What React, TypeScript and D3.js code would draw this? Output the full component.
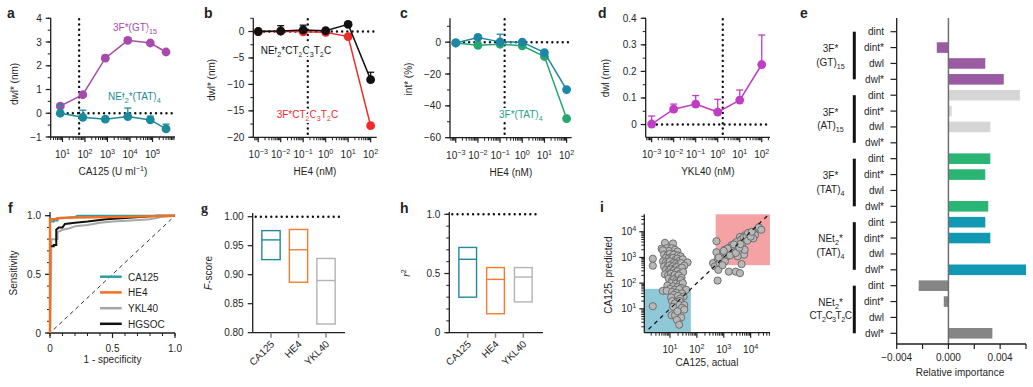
import * as d3 from 'd3';
import { useEffect, useRef } from 'react';

const FONT = "'Liberation Sans', Arial, Helvetica, sans-serif";
const INK = '#1f1f1f';

// a: CA125 titration (dwl*, nm)
const caConc = [8, 80, 800, 8000, 80000, 400000];
const gt15Dwl = [0.3, 0.78, 2.32, 3.07, 2.96, 2.58];
const gt15Err = [0.1, 0.08, 0.12, 0.1, 0.06, 0.06];
const tat4Dwl = [0.0, -0.17, -0.25, -0.14, -0.28, -0.66];
const tat4Err = [0.38, 0.3, 0.04, 0.36, 0.16, 0.2];
const caCutoff = 55;

// b, c: HE4 titration
const he4Conc = [0.001, 0.01, 0.1, 1, 10, 100];
const netCtDwl = [0, 0.1, 0.3, 0.15, 1.35, -9.1];
const netCtErr = [0.1, 1.0, 0.9, 0.1, 0.35, 1.4];
const ffCtDwl = [0, 0.05, -0.05, -0.15, -0.95, -17.8];
const ffCtErr = [0, 0, 0, 0, 0, 0];
const netTatInt = [-0.5, 3, 0.2, 0, -6.5, -29.8];
const netTatErr = [0, 0, 4.8, 0, 0, 0];
const ffTatInt = [-0.5, -2, -1.3, -2.3, -9, -48];
const ffTatErr = [0, 0, 0, 0, 0, 0];
const he4Cutoff = 0.16;

// d: YKL40 titration
const yklConc = [0.001, 0.01, 0.1, 1, 10, 100];
const yklDwl = [0.002, 0.058, 0.077, 0.047, 0.092, 0.226];
const yklErr = [0.03, 0.019, 0.032, 0.048, 0.038, 0.111];
const yklCutoff = 1.7;

// e: relative importance
const eGroups = [
  ['3F*', '(GT)_{15}'],
  ['3F*', '(AT)_{15}'],
  ['3F*', '(TAT)_{4}'],
  ['NEt_{2}*', '(TAT)_{4}'],
  ['NEt_{2}*', 'CT_{2}C_{3}T_{2}C'],
];
const eMetrics = ['dint', 'dint*', 'dwl', 'dwl*'];
const eValues = [
  [0, -0.0009, 0.00285, 0.00428],
  [0.00553, 0.00025, 0.00324, 0],
  [0.00324, 0.00285, 0, 0.00308],
  [0.00285, 0.00324, 0, 0.006],
  [-0.0023, -0.00036, 0, 0.0034],
];
const eColors = ['#9a5ba2', '#d6d6d6', '#2bb574', '#1198b2', '#858585'];

// f: ROC curves [1 - specificity, sensitivity]
const rocCa125 = [[0, 0], [0, 0.95], [0.03, 0.95], [0.03, 0.96], [0.06, 0.96], [0.06, 0.98], [0.12, 0.98], [0.2, 0.99], [0.22, 1], [1, 1]];
const rocHe4 = [[0, 0], [0, 0.97], [0.04, 0.97], [0.08, 0.98], [0.2, 0.985], [0.6, 0.99], [1, 1]];
const rocYkl40 = [[0, 0], [0.01, 0.62], [0.01, 0.8], [0.06, 0.8], [0.06, 0.86], [0.1, 0.88], [0.15, 0.89], [0.2, 0.91], [0.3, 0.92], [0.4, 0.94], [0.5, 0.95], [0.65, 0.96], [0.8, 0.97], [0.9, 0.99], [1, 1]];
const rocHgsoc = [[0, 0], [0, 0.74], [0.03, 0.74], [0.03, 0.75], [0.05, 0.75], [0.05, 0.88], [0.07, 0.9], [0.1, 0.9], [0.12, 0.93], [0.2, 0.94], [0.3, 0.95], [0.45, 0.97], [0.6, 0.98], [0.75, 0.99], [0.85, 1], [1, 1]];
const rocNames = ['CA125', 'HE4', 'YKL40', 'HGSOC'];
const rocColors = ['#2a9fa4', '#f36f21', '#a6a6a6', '#111111'];

// g, h: boxes (low, median, high)
const boxCats = ['CA125', 'HE4', 'YKL40'];
const boxColors = ['#23889f', '#f57c2f', '#b3b3b3'];
const fLow = [0.926, 0.887, 0.815];
const fMed = [0.96, 0.943, 0.89];
const fHigh = [0.976, 0.978, 0.928];
const r2Low = [0.3, 0.16, 0.26];
const r2Med = [0.62, 0.45, 0.47];
const r2High = [0.72, 0.55, 0.55];

// i: CA125 actual vs predicted
const iBenign = [
  [6.5, 3700], [13, 3500], [4.9, 2200], [7.9, 2300], [11.6, 2300], [15.4, 2000], [9, 1800], [19, 1700], [5.5, 1900],
  [6, 1300], [8, 1200], [10, 1400], [12, 1100], [14, 1300], [17, 1000], [20, 1200], [25, 1100], [7, 950], [9, 900],
  [11, 850], [13, 950], [16, 800], [19, 900], [23, 750], [30, 850], [45, 640], [5.5, 700], [7, 650], [8.5, 600],
  [10, 700], [12, 550], [14, 620], [17, 580], [21, 520], [26, 600], [34, 480], [6, 450], [8, 420], [9.5, 480],
  [11, 400], [13, 450], [15, 380], [18, 420], [22, 360], [28, 400], [7, 320], [9, 300], [10.5, 340], [12, 280],
  [14, 310], [16, 260], [19, 290], [24, 240], [31, 270], [6.5, 220], [8.5, 200], [11, 230], [13, 190], [15, 210],
  [18, 170], [21, 200], [27, 160], [9, 150], [12, 130], [14, 140], [17, 120], [20, 110], [25, 130], [11, 100],
  [16, 95], [23, 90], [30, 100], [8, 80], [13, 75], [19, 70], [26, 65], [10, 60], [15, 55], [22, 58], [40, 55],
  [5.4, 50], [7.5, 50], [12, 45], [17, 42], [28, 40], [14, 35], [20, 32], [32, 30], [11, 28], [24, 25], [12, 20],
  [18, 18], [23, 20], [15, 16], [22, 14], [34, 14], [13, 12], [28, 11], [34, 9.3], [11.5, 5.6], [15.4, 5.6],
  [26, 4.6], [18, 3.7], [22, 2.4], [19, 8], [2.3, 890], [2.3, 475], [2.3, 12.6],
];
const iMalignant = [
  [535, 4300], [535, 1600], [590, 126], [400, 600], [470, 450], [630, 330], [720, 810], [960, 1480], [1100, 2000],
  [1470, 2300], [1950, 3000], [2600, 3500], [4000, 6300], [6100, 7400], [9400, 8600], [14500, 7400], [19000, 13500],
  [12500, 5500], [1550, 280], [2800, 280], [4000, 245], [4600, 550], [5700, 1270], [3300, 1100], [2300, 1480],
  [800, 700], [900, 1100], [1000, 900], [1200, 1500], [1300, 1100], [1600, 1800], [1800, 1400], [2000, 2500],
  [2200, 1800], [2500, 2000], [3000, 2800], [3500, 3000], [3000, 4000], [4500, 5000], [5000, 3500], [5500, 6000],
  [7000, 7000], [8000, 9000], [6000, 2000], [7500, 4500], [10000, 6500], [11000, 10000], [20000, 15000],
  [25000, 12000], [600, 900], [700, 600], [650, 1000], [1100, 700], [1400, 2200], [1700, 1200], [2400, 3200],
  [2800, 1500], [3800, 2400], [4200, 3300], [900, 500], [1000, 1800],
];
const benignCut = 60;
const malignantCut = 500;

function rich(text: any, str: string, fs: number) {
  const parts = str.split(/(_\{[^}]*\}|\^\{[^}]*\})/).filter((p) => p !== '');
  let shift = 0;
  parts.forEach((p) => {
    let target = 0, size = fs, content = p;
    if (p.startsWith('_{')) { target = fs * 0.3; size = fs * 0.72; content = p.slice(2, -1); }
    else if (p.startsWith('^{')) { target = -fs * 0.4; size = fs * 0.72; content = p.slice(2, -1); }
    text.append('tspan').attr('dy', target - shift).attr('font-size', size).text(content);
    shift = target;
  });
}

function line(g: any, x1: number, y1: number, x2: number, y2: number, color = INK, w = 1.3) {
  return g.append('line').attr('x1', x1).attr('y1', y1).attr('x2', x2).attr('y2', y2)
    .attr('stroke', color).attr('stroke-width', w);
}

function dotted(g: any, x1: number, y1: number, x2: number, y2: number) {
  line(g, x1, y1, x2, y2, '#111', 2.4).attr('stroke-linecap', 'round').attr('stroke-dasharray', '0 5.2');
}

function label(g: any, x: number, y: number, str: string, opts: any = {}) {
  const t = g.append('text').attr('x', x).attr('y', y)
    .attr('text-anchor', opts.anchor || 'start')
    .attr('font-size', opts.size || 10)
    .attr('fill', opts.color || INK);
  if (opts.weight) t.attr('font-weight', opts.weight);
  if (opts.family) t.attr('font-family', opts.family);
  if (opts.halo) t.attr('stroke', '#fff').attr('stroke-width', 4).attr('paint-order', 'stroke');
  rich(t, str, opts.size || 10);
  return t;
}

function yTitle(g: any, cx: number, cy: number, str: string) {
  const t = g.append('text').attr('transform', `translate(${cx},${cy}) rotate(-90)`)
    .attr('text-anchor', 'middle').attr('font-size', 10).attr('fill', INK);
  rich(t, str, 10);
  return t;
}

function yTicks(g: any, y: any, x0: number, majors: number[], minors: number[], fmt: (v: number) => string) {
  minors.forEach((v) => line(g, x0 - 3, y(v), x0, y(v), INK, 1));
  majors.forEach((v) => {
    line(g, x0 - 5, y(v), x0, y(v), INK, 1.2);
    label(g, x0 - 9, y(v) + 3.5, fmt(v), { anchor: 'end' });
  });
}

function logTicks(scale: any) {
  const [d0, d1] = scale.domain();
  const out: number[] = [];
  for (let k = Math.floor(Math.log10(d0)); k <= Math.ceil(Math.log10(d1)); k++) {
    for (let m = 2; m <= 9; m++) {
      const v = m * Math.pow(10, k);
      if (v >= d0 && v <= d1) out.push(v);
    }
  }
  return out;
}

const sup = (e: number) => `10^{${e < 0 ? '−' + -e : e}}`;
const minus = (v: number, dp = 0) => (v < 0 ? '−' : '') + Math.abs(v).toFixed(dp);

function xLogAxis(g: any, x: any, y0: number, exps: number[], labelDy: number) {
  logTicks(x).forEach((v) => line(g, x(v), y0, x(v), y0 + 3, INK, 1));
  exps.forEach((e) => {
    const v = Math.pow(10, e);
    line(g, x(v), y0, x(v), y0 + 5, INK, 1.2);
    label(g, x(v), y0 + labelDy, sup(e), { anchor: 'middle' });
  });
}

function yLogAxis(g: any, y: any, x0: number, exps: number[]) {
  logTicks(y).forEach((v) => line(g, x0 - 3, y(v), x0, y(v), INK, 1));
  exps.forEach((e) => {
    const v = Math.pow(10, e);
    line(g, x0 - 5, y(v), x0, y(v), INK, 1.2);
    label(g, x0 - 8, y(v) + 3.5, sup(e), { anchor: 'end' });
  });
}

function drawDose(svg: any, p: any) {
  const g = svg.append('g');
  const x = d3.scaleLog().domain(p.xDomain).range(p.xRange);
  const y = d3.scaleLinear().domain(p.yDomain).range(p.yRange);
  const [xl, xr] = p.xRange;
  const [yb, yt] = p.yRange;

  dotted(g, x(p.cutoff), yt + 1, x(p.cutoff), yb - 1);
  dotted(g, x(p.zeroSpan[0]), y(0), x(p.zeroSpan[1]), y(0));

  line(g, xl, yt, xl, yb);
  line(g, xl, yb, xr, yb);
  yTicks(g, y, xl, p.yMajor, p.yMinor, p.yFmt);
  xLogAxis(g, x, yb, p.xExps, 21);

  p.series.forEach((s: any) => {
    const path = d3.line<number>().x((_, i) => x(p.conc[i])).y((d) => y(d));
    g.append('path').datum(s.values).attr('d', path).attr('fill', 'none')
      .attr('stroke', s.color).attr('stroke-width', 1.5);
    s.err.forEach((e: number, i: number) => {
      if (e <= 0) return;
      const cx = x(p.conc[i]);
      const v = s.values[i];
      line(g, cx, y(v), cx, y(v + e), s.color, 1.3);
      line(g, cx - 3.5, y(v + e), cx + 3.5, y(v + e), s.color, 1.3);
    });
    g.selectAll(null).data(s.values).enter().append('circle')
      .attr('cx', (_: any, i: number) => x(p.conc[i])).attr('cy', (d: number) => y(d))
      .attr('r', 4.4).attr('fill', s.color);
  });

  p.texts.forEach((t: any) => label(g, t.x, t.y, t.text, { color: t.color, anchor: t.anchor, halo: true }));
  label(g, p.letter[0], p.letter[1], p.letter[2], { size: 14, weight: 'bold' });
  label(g, (xl + xr) / 2, yb + 38, p.xTitle, { anchor: 'middle' });
  yTitle(g, p.yTitlePos[0], p.yTitlePos[1], p.yTitle);
}

function drawE(svg: any) {
  const g = svg.append('g');
  const x = d3.scaleLinear().domain([-0.004, 0.006]).range([896.7, 1026]);
  const rows = d3.range(eGroups.length * eMetrics.length);
  const y = d3.scalePoint<number>().domain(rows).range([31.7, 333.3]);
  const top = 18, bottom = 344;

  eGroups.forEach((grp, gi) => {
    eValues[gi].forEach((v, mi) => {
      const r = gi * 4 + mi;
      if (v !== 0) {
        g.append('rect').attr('x', x(Math.min(0, v))).attr('y', y(r)! - 5.3)
          .attr('width', Math.abs(x(v) - x(0))).attr('height', 10.6).attr('fill', eColors[gi]);
      }
      line(g, 890.5, y(r)!, 896.7, y(r)!, INK, 1.2);
      label(g, 884, y(r)! + 3.5, eMetrics[mi], { anchor: 'end' });
    });
    const y0 = y(gi * 4)!, y1 = y(gi * 4 + 3)!;
    g.append('rect').attr('x', 852.8).attr('y', y0).attr('width', 3).attr('height', y1 - y0).attr('fill', '#111');
    const cy = (y0 + y1) / 2;
    grp.forEach((ln, li) => {
      const t = label(g, 830.5, cy - 3.5 + li * 13.5, ln, { anchor: 'middle' });
      if (ln.length > 12) t.attr('letter-spacing', -0.5);
    });
  });

  line(g, x(0), top, x(0), bottom, '#6f6f6f', 1.5);
  line(g, 896.7, top, 896.7, bottom);
  line(g, 896.7, bottom, 1026, bottom);
  [-0.004, -0.002, 0, 0.002, 0.004, 0.006].forEach((v) => line(g, x(v), bottom, x(v), bottom + 5, INK, 1.2));
  [-0.004, 0, 0.004].forEach((v) => label(g, x(v), bottom + 17, minus(v, 3), { anchor: 'middle' }));
  label(g, 960, 376, 'Relative importance', { anchor: 'middle' });
  label(g, 800, 18, 'e', { size: 14, weight: 'bold' });
}

function drawF(svg: any) {
  const g = svg.append('g');
  const x = d3.scaleLinear().domain([0, 1]).range([50, 175]);
  const y = d3.scaleLinear().domain([0, 1]).range([333, 215.7]);
  const tenths = d3.range(0, 11).map((i) => i / 10);

  line(g, x(0.03), y(0.03), x(1), y(1), '#333', 1).attr('stroke-dasharray', '4 3.5');

  line(g, 50, 212, 50, 333);
  line(g, 50, 333, 175, 333);
  yTicks(g, y, 50, [0, 0.5, 1], tenths, (v) => (v === 0 ? '0' : v.toFixed(1)));
  tenths.forEach((v) => line(g, x(v), 333, x(v), 336, INK, 1));
  [0, 0.5, 1].forEach((v) => {
    line(g, x(v), 333, x(v), 338, INK, 1.2);
    label(g, x(v), 352, v === 0 ? '0' : v.toFixed(1), { anchor: 'middle' });
  });

  const curves = [rocCa125, rocHe4, rocYkl40, rocHgsoc];
  const order = [2, 3, 0, 1];
  const path = d3.line<number[]>().x((d) => x(d[0])).y((d) => y(d[1]));
  order.forEach((k) => {
    g.append('path').datum(curves[k]).attr('d', path).attr('fill', 'none')
      .attr('stroke', rocColors[k]).attr('stroke-width', k === 1 ? 2.4 : 2);
  });

  rocNames.forEach((n, i) => {
    const ly = [276.7, 292.4, 308.2, 323.8][i];
    line(g, 100, ly, 121.7, ly, rocColors[i], 2.5);
    label(g, 128, ly + 3.8, n);
  });

  label(g, 112.5, 363, '1 - specificity', { anchor: 'middle' });
  yTitle(g, 17, 273, 'Sensitivity');
  label(g, 8, 213, 'f', { size: 14, weight: 'bold' });
}

function drawBoxes(svg: any, p: any) {
  const g = svg.append('g');
  const y = d3.scaleLinear().domain(p.yDomain).range(p.yRange);
  const x = d3.scalePoint<string>().domain(boxCats).range(p.catRange);
  const [yb] = p.yRange;
  const [xl, xr] = p.xRange;

  dotted(g, xl + 3, y(1), p.dotEnd, y(1));
  line(g, xl, p.axisTop, xl, yb);
  line(g, xl, yb, xr, yb);
  yTicks(g, y, xl, p.yMajor, p.yMinor, p.yFmt);

  boxCats.forEach((c, i) => {
    const cx = x(c)!;
    const w = p.boxW;
    g.append('rect').attr('x', cx - w / 2).attr('y', y(p.high[i])).attr('width', w)
      .attr('height', y(p.low[i]) - y(p.high[i])).attr('fill', 'none')
      .attr('stroke', boxColors[i]).attr('stroke-width', 1.4);
    line(g, cx - w / 2, y(p.med[i]), cx + w / 2, y(p.med[i]), boxColors[i], 1.4);
    line(g, cx, yb, cx, yb + 5, '#888', 1.5);
    g.append('text').attr('transform', `translate(${cx + 4},${yb + 12}) rotate(-45)`)
      .attr('text-anchor', 'end').attr('font-size', 10).attr('fill', INK).text(c);
  });

  label(g, p.letter[0], p.letter[1], p.letter[2], { size: 14, weight: 'bold', family: p.letterFamily });
  const t = g.append('text').attr('transform', `translate(${p.titlePos[0]},${p.titlePos[1]}) rotate(-90)`)
    .attr('text-anchor', 'middle').attr('font-size', 10).attr('fill', INK);
  t.append('tspan').attr('font-style', 'italic').text(p.titleItalic);
  if (p.titleSup) t.append('tspan').attr('dy', -4).attr('font-size', 7).text(p.titleSup);
  if (p.titleRest) t.append('tspan').text(p.titleRest);
}

function drawI(svg: any) {
  const g = svg.append('g');
  const x = d3.scaleLog().domain([Math.pow(10, 0.045), Math.pow(10, 4.72)]).range([644.3, 770]);
  const y = d3.scaleLog().domain([Math.pow(10, 0.07), Math.pow(10, 4.68)]).range([332.7, 214.3]);

  g.append('rect').attr('x', 644.3).attr('y', y(benignCut)).attr('width', x(benignCut) - 644.3)
    .attr('height', 332.7 - y(benignCut)).attr('fill', '#8fc8d6');
  g.append('rect').attr('x', x(malignantCut)).attr('y', 214.3).attr('width', 770 - x(malignantCut))
    .attr('height', y(malignantCut) - 214.3).attr('fill', '#f4a2a4');

  const pts = iBenign.concat(iMalignant);
  g.selectAll(null).data(pts).enter().append('circle')
    .attr('cx', (d: number[]) => x(d[0])).attr('cy', (d: number[]) => y(d[1]))
    .attr('r', 3.6).attr('fill', '#b8b8b8').attr('stroke', '#6e6e6e').attr('stroke-width', 1);

  line(g, x(1.6), y(1.6), x(48000), y(48000), '#111', 1.2).attr('stroke-dasharray', '4 4');

  line(g, 644.3, 214.3, 644.3, 332.7);
  line(g, 644.3, 332.7, 770, 332.7);
  yLogAxis(g, y, 644.3, [1, 2, 3, 4]);
  xLogAxis(g, x, 332.7, [1, 2, 3, 4], 20);

  label(g, 707, 366, 'CA125, actual', { anchor: 'middle' });
  yTitle(g, 612, 275, 'CA125, predicted');
  label(g, 600, 212, 'i', { size: 14, weight: 'bold' });
}

export default function App() {
  const ref = useRef<SVGSVGElement>(null);

  useEffect(() => {
    const svg = d3.select(ref.current);
    svg.selectAll('*').remove();
    svg.attr('font-family', FONT);

    drawDose(svg, {
      conc: caConc, xDomain: [3, 1e6], xRange: [50.7, 175], yDomain: [-1, 4], yRange: [137, 18.3],
      yMajor: [-1, 0, 1, 2, 3, 4], yMinor: d3.range(-1, 4.01, 0.5), yFmt: (v: number) => minus(v),
      xExps: [1, 2, 3, 4, 5], cutoff: caCutoff, zeroSpan: [10, 8e5],
      series: [
        { values: gt15Dwl, err: gt15Err, color: '#a84aab' },
        { values: tat4Dwl, err: tat4Err, color: '#1b8b9b' },
      ],
      texts: [
        { x: 113, y: 31, text: '3F*(GT)_{15}', color: '#a84aab' },
        { x: 108, y: 100, text: 'NEt_{2}*(TAT)_{4}', color: '#1b8b9b' },
      ],
      letter: [7, 18, 'a'], xTitle: 'CA125 (U ml^{−1})', yTitle: 'dwl* (nm)', yTitlePos: [18, 84],
    });

    drawDose(svg, {
      conc: he4Conc, xDomain: [Math.pow(10, -3.22), Math.pow(10, 2.27)], xRange: [253.3, 376.7],
      yDomain: [-20, 2.5], yRange: [137.3, 18.3],
      yMajor: [-20, -15, -10, -5, 0], yMinor: d3.range(-20, 2.6, 2.5), yFmt: (v: number) => minus(v),
      xExps: [-3, -2, -1, 0, 1, 2], cutoff: he4Cutoff, zeroSpan: [Math.pow(10, -3.2), Math.pow(10, 2.2)],
      series: [
        { values: ffCtDwl, err: ffCtErr, color: '#ee2a2a' },
        { values: netCtDwl, err: netCtErr, color: '#111111' },
      ],
      texts: [
        { x: 260.7, y: 54, text: 'NEt_{2}*CT_{2}C_{3}T_{2}C', color: '#111' },
        { x: 276.7, y: 118, text: '3F*CT_{2}C_{3}T_{2}C', color: '#ee2a2a' },
      ],
      letter: [204, 18, 'b'], xTitle: 'HE4 (nM)', yTitle: 'dwl* (nm)', yTitlePos: [214.5, 80],
    });

    drawDose(svg, {
      conc: he4Conc, xDomain: [Math.pow(10, -3.26), Math.pow(10, 2.23)], xRange: [450, 571.7],
      yDomain: [-60, 15], yRange: [137.7, 18.3],
      yMajor: [-60, -40, -20, 0], yMinor: d3.range(-60, 15.1, 10), yFmt: (v: number) => minus(v),
      xExps: [-3, -2, -1, 0, 1, 2], cutoff: he4Cutoff, zeroSpan: [Math.pow(10, -3.1), Math.pow(10, 2.2)],
      series: [
        { values: ffTatInt, err: ffTatErr, color: '#25a76f' },
        { values: netTatInt, err: netTatErr, color: '#1d86a6' },
      ],
      texts: [{ x: 499, y: 118, text: '3F*(TAT)_{4}', color: '#22a483' }],
      letter: [400, 18, 'c'], xTitle: 'HE4 (nM)', yTitle: 'int* (%)', yTitlePos: [411.5, 79],
    });

    drawDose(svg, {
      conc: yklConc, xDomain: [Math.pow(10, -3.27), Math.pow(10, 2.375)], xRange: [645.7, 770],
      yDomain: [-0.048, 0.4], yRange: [137.3, 18.3],
      yMajor: [0, 0.1, 0.2, 0.3, 0.4], yMinor: d3.range(0, 0.401, 0.05), yFmt: (v: number) => (v === 0 ? '0' : v.toFixed(1)),
      xExps: [-3, -2, -1, 0, 1, 2], cutoff: yklCutoff, zeroSpan: [Math.pow(10, -3), Math.pow(10, 2.3)],
      series: [{ values: yklDwl, err: yklErr, color: '#c13cc4' }],
      texts: [],
      letter: [598, 18, 'd'], xTitle: 'YKL40 (nM)', yTitle: 'dwl (nm)', yTitlePos: [608.5, 78],
    });

    drawE(svg);
    drawF(svg);

    drawBoxes(svg, {
      yDomain: [0.8, 1.0], yRange: [332.7, 216.7], catRange: [271, 326], xRange: [252.7, 345],
      axisTop: 213, dotEnd: 343.3, boxW: 18.3,
      yMajor: [0.8, 0.85, 0.9, 0.95, 1.0], yMinor: [], yFmt: (v: number) => v.toFixed(2),
      low: fLow, med: fMed, high: fHigh,
      letter: [201, 213, 'g'], letterFamily: "'Liberation Serif', serif",
      titlePos: [212, 273], titleItalic: 'F', titleRest: '-score',
    });

    drawBoxes(svg, {
      yDomain: [0, 1], yRange: [332.7, 214.3], catRange: [467.7, 523.3], xRange: [449.3, 543],
      axisTop: 212, dotEnd: 538, boxW: 17.7,
      yMajor: [0, 0.5, 1], yMinor: d3.range(0, 1.01, 0.1), yFmt: (v: number) => (v === 0 ? '0' : v.toFixed(1)),
      low: r2Low, med: r2Med, high: r2High,
      letter: [400, 213, 'h'],
      titlePos: [410, 273], titleItalic: 'r', titleSup: '2',
    });

    drawI(svg);
  }, []);

  return (
    <svg ref={ref} width={1033} height={387}
      style={{ position: 'absolute', left: 0, top: 0, background: '#fff' }} />
  );
}
